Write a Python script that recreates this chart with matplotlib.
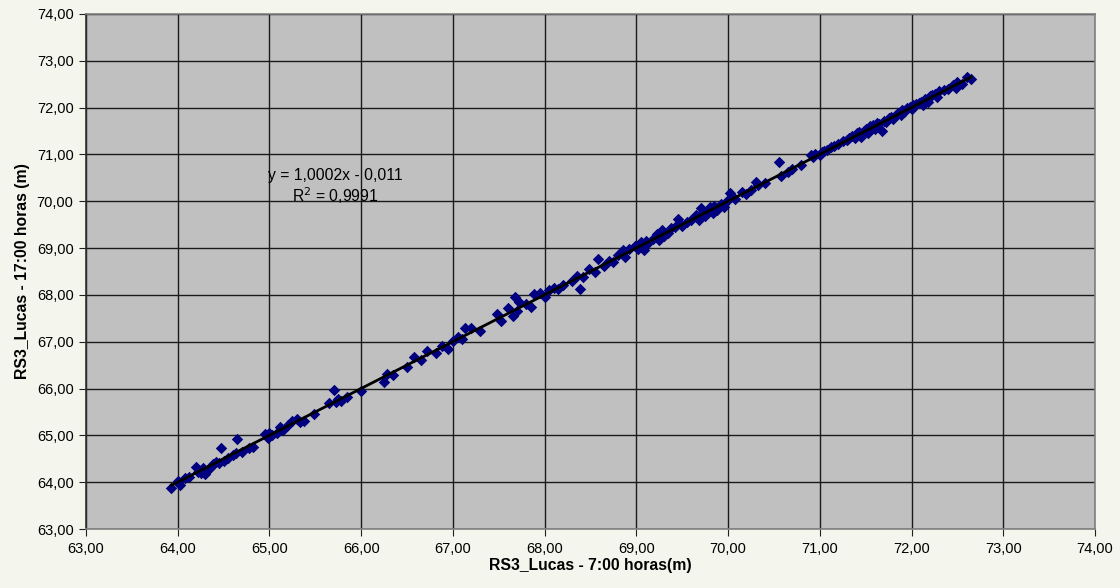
import matplotlib
matplotlib.use("Agg")
import matplotlib.pyplot as plt
from matplotlib.ticker import FuncFormatter, MultipleLocator

# ---------- data ----------
x_7h = [
    63.93, 64.00, 64.03, 64.08, 64.12, 64.20, 64.22, 64.25, 64.28, 64.30,
    64.32, 64.35, 64.38, 64.42, 64.45, 64.47, 64.50, 64.55, 64.60, 64.63,
    64.65, 64.70, 64.78, 64.82, 64.95, 64.98, 65.00, 65.03, 65.08, 65.12,
    65.15, 65.20, 65.25, 65.30, 65.33, 65.38, 65.48, 65.65, 65.70, 65.72,
    65.75, 65.78, 65.85, 66.00, 66.25, 66.28, 66.35, 66.50, 66.58, 66.65,
    66.72, 66.82, 66.88, 66.95, 67.00, 67.05, 67.10, 67.13, 67.20, 67.30,
    67.48, 67.52, 67.60, 67.65, 67.68, 67.70, 67.72, 67.80, 67.85, 67.88,
    67.95, 68.00, 68.05, 68.10, 68.15, 68.20, 68.30, 68.35, 68.38, 68.42,
    68.48, 68.55, 68.58, 68.65, 68.70, 68.75, 68.80, 68.85, 68.88, 68.92,
    68.98, 69.02, 69.05, 69.08, 69.10, 69.12, 69.18, 69.22, 69.25, 69.28,
    69.30, 69.35, 69.38, 69.42, 69.45, 69.50, 69.55, 69.60, 69.65, 69.68,
    69.70, 69.72, 69.75, 69.78, 69.80, 69.83, 69.85, 69.88, 69.92, 69.95,
    70.00, 70.02, 70.08, 70.15, 70.20, 70.25, 70.30, 70.33, 70.40, 70.55,
    70.58, 70.65, 70.70, 70.80, 70.90, 70.92, 70.95, 71.00, 71.02, 71.05,
    71.08, 71.12, 71.15, 71.20, 71.25, 71.30, 71.32, 71.35, 71.38, 71.40,
    71.43, 71.45, 71.48, 71.50, 71.52, 71.55, 71.58, 71.60, 71.62, 71.65,
    71.68, 71.70, 71.72, 71.75, 71.78, 71.80, 71.83, 71.85, 71.88, 71.90,
    71.92, 71.95, 71.98, 72.00, 72.02, 72.05, 72.08, 72.10, 72.12, 72.15,
    72.18, 72.20, 72.22, 72.25, 72.28, 72.30, 72.35, 72.40, 72.45, 72.48,
    72.50, 72.55, 72.60, 72.65,
]
y_17h = [
    63.88, 64.02, 63.95, 64.08, 64.12, 64.33, 64.22, 64.20, 64.30, 64.18,
    64.25, 64.30, 64.38, 64.44, 64.42, 64.72, 64.45, 64.52, 64.58, 64.62,
    64.93, 64.65, 64.72, 64.75, 65.02, 64.95, 65.05, 65.00, 65.05, 65.18,
    65.12, 65.22, 65.30, 65.35, 65.28, 65.30, 65.45, 65.70, 65.97, 65.72,
    65.78, 65.74, 65.82, 65.95, 66.15, 66.32, 66.30, 66.45, 66.68, 66.60,
    66.80, 66.75, 66.90, 66.85, 67.02, 67.10, 67.05, 67.29, 67.30, 67.22,
    67.60, 67.45, 67.72, 67.55, 67.95, 67.65, 67.85, 67.80, 67.75, 68.02,
    68.05, 67.95, 68.10, 68.15, 68.12, 68.22, 68.30, 68.40, 68.12, 68.38,
    68.55, 68.50, 68.76, 68.62, 68.72, 68.70, 68.85, 68.95, 68.82, 68.98,
    69.05, 68.98, 69.12, 68.95, 69.15, 69.08, 69.20, 69.30, 69.18, 69.38,
    69.25, 69.32, 69.42, 69.45, 69.62, 69.48, 69.55, 69.60, 69.70, 69.60,
    69.85, 69.75, 69.68, 69.80, 69.88, 69.75, 69.90, 69.82, 69.95, 69.88,
    70.02, 70.18, 70.05, 70.20, 70.15, 70.25, 70.42, 70.35, 70.38, 70.84,
    70.55, 70.62, 70.68, 70.78, 70.98, 70.95, 71.00, 70.98, 71.05, 71.08,
    71.10, 71.15, 71.18, 71.22, 71.28, 71.30, 71.35, 71.40, 71.35, 71.45,
    71.48, 71.38, 71.50, 71.55, 71.45, 71.60, 71.62, 71.55, 71.68, 71.66,
    71.50, 71.72, 71.70, 71.78, 71.80, 71.76, 71.85, 71.88, 71.84, 71.95,
    71.90, 72.00, 72.02, 71.97, 72.05, 72.08, 72.10, 72.12, 72.05, 72.18,
    72.12, 72.25, 72.28, 72.30, 72.22, 72.35, 72.38, 72.40, 72.48, 72.42,
    72.55, 72.50, 72.65, 72.62,
]

slope, intercept = 1.0002, -0.011
eq_text = "y = 1,0002x - 0,011"
r2_text = "R$^2$ = 0,9991"

# ---------- plot ----------
plt.rcParams["font.family"] = ["Liberation Sans", "DejaVu Sans"]

fig = plt.figure(figsize=(11.2, 5.88), dpi=100)
fig.patch.set_facecolor("#F4F5EC")
ax = fig.add_axes([0.0768, 0.1003, 0.9009, 0.8759])
ax.set_facecolor("#C0C0C0")

ax.scatter(x_7h, y_17h, marker="D", s=34, color="#000080", linewidths=0, zorder=3)

x0, x1 = min(x_7h), max(x_7h)
ax.plot([x0, x1], [slope * x0 + intercept, slope * x1 + intercept],
        color="black", lw=2, zorder=4)

ax.text(65.72, 70.56, eq_text, ha="center", va="center", fontsize=11.3, zorder=5)
ax.text(65.72, 70.11, r2_text, ha="center", va="center", fontsize=11.3, zorder=5)

ax.set_xlim(63, 74)
ax.set_ylim(63, 74)
ax.xaxis.set_major_locator(MultipleLocator(1))
ax.yaxis.set_major_locator(MultipleLocator(1))
fmt = FuncFormatter(lambda v, p: f"{v:.2f}".replace(".", ","))
ax.xaxis.set_major_formatter(fmt)
ax.yaxis.set_major_formatter(fmt)
ax.tick_params(labelsize=10.5, length=5, color="#202020", pad=4)

ax.grid(True, color="#1a1a1a", lw=1)
ax.set_axisbelow(True)
for s in ax.spines.values():
    s.set_color("#808080")
    s.set_linewidth(1.2)
ax.spines["left"].set_color("#303030")

ax.set_xlabel("RS3_Lucas - 7:00 horas(m)", fontsize=11.3, fontweight="bold", labelpad=2)
ax.set_ylabel("RS3_Lucas - 17:00 horas (m)", fontsize=11.3, fontweight="bold", labelpad=5)

fig.savefig("out.png", dpi=100, facecolor=fig.get_facecolor())
